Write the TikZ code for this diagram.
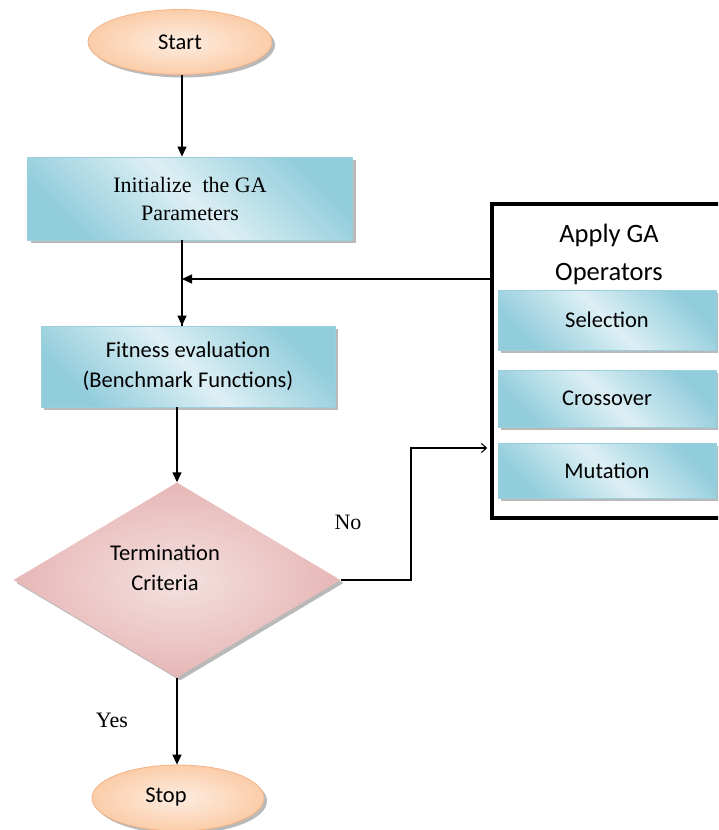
\documentclass[tikz,border=0pt]{standalone}
\usepackage{fontspec}
\setmainfont{Liberation Serif}
\newfontfamily\calib{Carlito}
\usetikzlibrary{shapes.geometric,shadows,arrows.meta}
\definecolor{bluedark}{HTML}{92CDDC}
\definecolor{bluelight}{HTML}{DDEFF4}
\definecolor{blueedge}{HTML}{9CCFDD}
\definecolor{peachout}{HTML}{FBCDA9}
\definecolor{peachin}{HTML}{FDEDE1}
\definecolor{peachedge}{HTML}{F4B386}
\definecolor{pinkout}{HTML}{E6B7B6}
\definecolor{pinkin}{HTML}{F4E1E0}
\definecolor{shadowgray}{HTML}{A8A8A8}
\tikzset{
  shadowed/.style={drop shadow={shadow xshift=3pt,shadow yshift=-3pt,fill=shadowgray,opacity=0.8}},
  bluebox/.style={rectangle, draw=blueedge, line width=0.8pt,
    left color=bluedark, right color=bluedark, middle color=bluelight,
    shading angle=135, shadowed, inner sep=0pt, align=center},
  terminal/.style={ellipse, draw=peachedge, line width=0.8pt,
    inner color=peachin, outer color=peachout, shadowed, inner sep=0pt},
  decision/.style={diamond, draw=none, inner color=pinkin, outer color=pinkout,
    shadowed, inner sep=0pt},
  sanstext/.style={font=\calib\fontsize{22.5}{30}\selectfont, align=center},
  seriftext/.style={font=\fontsize{22}{28}\selectfont, align=center},
  arr/.style={line width=1.3pt, -{Triangle[length=10pt,width=9pt]}},
  thinarr/.style={line width=1.1pt, -{Straight Barb[length=5pt,width=9pt]}},
  opsframe/.style={draw=black, line width=4.5pt, fill=white, inner sep=0pt}
}
\begin{document}
\begin{tikzpicture}[x=1pt,y=-1pt]
\useasboundingbox (0,0) rectangle (718,830);
\clip (0,0) rectangle (718,830);

% main column
\node[terminal, minimum width=184pt, minimum height=65pt, sanstext] (start) at (180,42) {Start};
\node[bluebox, minimum width=325pt, minimum height=83pt, seriftext] (init) at (190,198.5)
  {Initialize\ \ the GA\\Parameters};
\node[bluebox, minimum width=294pt, minimum height=81pt, sanstext] (fit) at (188,366.5)
  {Fitness evaluation\\(Benchmark Functions)};
\node[decision, minimum width=327pt, minimum height=195pt] (dia) at (177,580) {};
\node[sanstext] (diatext) at (165,568) {Termination\\Criteria};
\node[terminal, minimum width=172pt, minimum height=66pt] (stop) at (178,798) {};
\node[sanstext] (stoptext) at (166,797) {Stop};

% operators panel
\node[opsframe, minimum width=230pt, minimum height=314pt] (ops) at (607,361) {};
\node[font=\calib\fontsize{26.5}{38}\selectfont, align=center] (opstitle) at (609,254) {Apply GA\\Operators};
\node[bluebox, minimum width=218pt, minimum height=60pt, sanstext] (sel) at (607,320) {Selection};
\node[bluebox, minimum width=218pt, minimum height=57pt, sanstext] (cross) at (607,398.5) {Crossover};
\node[bluebox, minimum width=218pt, minimum height=55pt, sanstext] (mut) at (607,470.5) {Mutation};

% labels
\node[seriftext] (nolab) at (348,522) {No};
\node[seriftext] (yeslab) at (112,720) {Yes};

% connectors
\coordinate (trunk) at (182,0);
\coordinate (fb) at (182,279);
\coordinate (nobend) at (411,448);
\draw[arr] (trunk |- start.south) -- (trunk |- init.north);
\draw[line width=1.3pt] (trunk |- init.south) -- (trunk |- fit.north);
\draw[arr] (trunk |- fb) -- (trunk |- fit.north);
\draw[arr] (ops.west |- fb) -- (fb);
\draw[arr] (dia.north |- fit.south) -- (dia.north);
\draw[arr] (dia.south) -- (dia.south |- stop.north);
\draw[thinarr] (dia.east) -| (nobend) -- ([xshift=-2.5pt]ops.west |- nobend);
\end{tikzpicture}
\end{document}
